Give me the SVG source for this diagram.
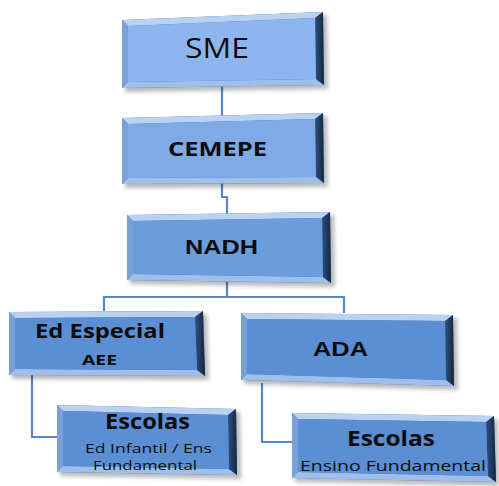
<svg xmlns="http://www.w3.org/2000/svg" width="499" height="486" viewBox="0 0 499 486">
  <defs>
    <filter id="shadow" x="-10%" y="-10%" width="130%" height="140%">
      <feGaussianBlur stdDeviation="2"/>
    </filter>
    <linearGradient id="rightEdge" x1="0" y1="0" x2="1" y2="0">
      <stop offset="0" stop-color="#2e5282"/>
      <stop offset="1" stop-color="#14263f"/>
    </linearGradient>
    <style>
      .shadow { fill: #000; opacity: 0.28; filter: url(#shadow); }
      .frame { fill: #3f6eae; }
      .bt { fill: #b9d2f3; }
      .bl { fill: #7aa1d6; }
      .bb { fill: #9fbfea; }
      .br { fill: url(#rightEdge); }
      .face0 { fill: #8db6ef; }
      .face1 { fill: #7eaae6; }
      .face2 { fill: #6b9cdc; }
      .face3 { fill: #5b8ed3; }
      .link { fill: none; stroke: #5a86c3; stroke-width: 2.2; }
      text { fill: #0d0d0d; text-anchor: start; }
      .cal { font-family: "Open Sans", "Liberation Sans", sans-serif; }
      .ari { font-family: "Liberation Sans", Arial, sans-serif; font-weight: bold; }
      .b { font-weight: bold; }
    </style>
  </defs>

  <!-- connectors -->
  <g id="connectors">
    <path class="link" d="M222,86 V117"/>
    <path class="link" d="M222,183 V197 H227 V214"/>
    <path class="link" d="M227,282 V297"/>
    <path class="link" d="M104,311 V297 H344 V313"/>
    <path class="link" d="M32,375 V437 H57"/>
    <path class="link" d="M262,383 V442 H292"/>
  </g>

  <!-- SME -->
  <g id="sme">
    <polygon class="shadow" points="125,23 327,15 328,89 125,92"/>
    <polygon class="frame" points="122,20 323,12 324,85 122,88"/>
    <polygon class="bt" points="122,20 323,12 315,18 128,26"/>
    <polygon class="bl" points="122,20 128,26 128,82 122,88"/>
    <polygon class="bb" points="122,88 128,82 316,79 324,85"/>
    <polygon class="br" points="323,12 324,85 316,79 315,18"/>
    <polygon class="face0" points="128,26 315,18 316,79 128,82"/>
    <text class="cal" x="185" y="58" font-size="27" textLength="64" lengthAdjust="spacingAndGlyphs">SME</text>
  </g>

  <!-- CEMEPE -->
  <g id="cemepe">
    <polygon class="shadow" points="125,121 327,116 328,187 125,188"/>
    <polygon class="frame" points="122,118 323,113 324,183 122,184"/>
    <polygon class="bt" points="122,118 323,113 315,119 128,124"/>
    <polygon class="bl" points="122,118 128,124 128,178 122,184"/>
    <polygon class="bb" points="122,184 128,178 316,177 324,183"/>
    <polygon class="br" points="323,113 324,183 316,177 315,119"/>
    <polygon class="face1" points="128,124 315,119 316,177 128,178"/>
    <text class="cal b" x="168" y="156" font-size="20" textLength="99" lengthAdjust="spacingAndGlyphs">CEMEPE</text>
  </g>

  <!-- NADH -->
  <g id="nadh">
    <polygon class="shadow" points="130,218 334,215 335,287 130,284"/>
    <polygon class="frame" points="127,215 330,212 331,283 127,280"/>
    <polygon class="bt" points="127,215 330,212 322,218 133,221"/>
    <polygon class="bl" points="127,215 133,221 133,274 127,280"/>
    <polygon class="bb" points="127,280 133,274 323,277 331,283"/>
    <polygon class="br" points="330,212 331,283 323,277 322,218"/>
    <polygon class="face2" points="133,221 322,218 323,277 133,274"/>
    <text class="ari" x="185" y="254" font-size="20" textLength="73" lengthAdjust="spacingAndGlyphs">NADH</text>
  </g>

  <!-- Ed Especial / AEE -->
  <g id="ed-especial">
    <polygon class="shadow" points="12,315 207,314 209,380 12,379"/>
    <polygon class="frame" points="9,312 203,311 205,376 9,375"/>
    <polygon class="bt" points="9,312 203,311 195,317 15,318"/>
    <polygon class="bl" points="9,312 15,318 15,369 9,375"/>
    <polygon class="bb" points="9,375 15,369 197,370 205,376"/>
    <polygon class="br" points="203,311 205,376 197,370 195,317"/>
    <polygon class="face3" points="15,318 195,317 197,370 15,369"/>
    <text class="cal b" x="35" y="338" font-size="20" textLength="130" lengthAdjust="spacingAndGlyphs">Ed Especial</text>
    <text class="cal b" x="82" y="365" font-size="15" textLength="35" lengthAdjust="spacingAndGlyphs">AEE</text>
  </g>

  <!-- ADA -->
  <g id="ada">
    <polygon class="shadow" points="244,316 457,318 458,390 244,384"/>
    <polygon class="frame" points="241,313 453,315 454,386 241,380"/>
    <polygon class="bt" points="241,313 453,315 445,321 247,319"/>
    <polygon class="bl" points="241,313 247,319 247,374 241,380"/>
    <polygon class="bb" points="241,380 247,374 446,380 454,386"/>
    <polygon class="br" points="453,315 454,386 446,380 445,321"/>
    <polygon class="face3" points="247,319 445,321 446,380 247,374"/>
    <text class="ari" x="313" y="356" font-size="20" textLength="55" lengthAdjust="spacingAndGlyphs">ADA</text>
  </g>

  <!-- Escolas: Ed Infantil / Ens Fundamental -->
  <g id="escolas-infantil">
    <polygon class="shadow" points="60,408 240,412 241,479 60,476"/>
    <polygon class="frame" points="57,405 236,409 237,475 57,472"/>
    <polygon class="bt" points="57,405 236,409 228,415 63,411"/>
    <polygon class="bl" points="57,405 63,411 63,466 57,472"/>
    <polygon class="bb" points="57,472 63,466 229,469 237,475"/>
    <polygon class="br" points="236,409 237,475 229,469 228,415"/>
    <polygon class="face3" points="63,411 228,415 229,469 63,466"/>
    <text class="cal b" x="105" y="429" font-size="21" textLength="85" lengthAdjust="spacingAndGlyphs">Escolas</text>
    <text class="cal" x="85" y="453" font-size="13.5" textLength="127" lengthAdjust="spacingAndGlyphs">Ed Infantil / Ens</text>
    <text class="cal" x="93" y="470" font-size="13.5" textLength="104" lengthAdjust="spacingAndGlyphs">Fundamental</text>
  </g>

  <!-- Escolas: Ensino Fundamental -->
  <g id="escolas-fundamental">
    <polygon class="shadow" points="295,416 498,419 499,486 295,482"/>
    <polygon class="frame" points="292,413 494,416 496,482 292,478"/>
    <polygon class="bt" points="292,413 494,416 486,422 298,419"/>
    <polygon class="bl" points="292,413 298,419 298,472 292,478"/>
    <polygon class="bb" points="292,478 298,472 488,476 496,482"/>
    <polygon class="br" points="494,416 496,482 488,476 486,422"/>
    <polygon class="face3" points="298,419 486,422 488,476 298,472"/>
    <text class="cal b" x="347" y="446" font-size="21" textLength="88" lengthAdjust="spacingAndGlyphs">Escolas</text>
    <text class="cal" x="300" y="471" font-size="15" textLength="186" lengthAdjust="spacingAndGlyphs">Ensino Fundamental</text>
  </g>
</svg>
